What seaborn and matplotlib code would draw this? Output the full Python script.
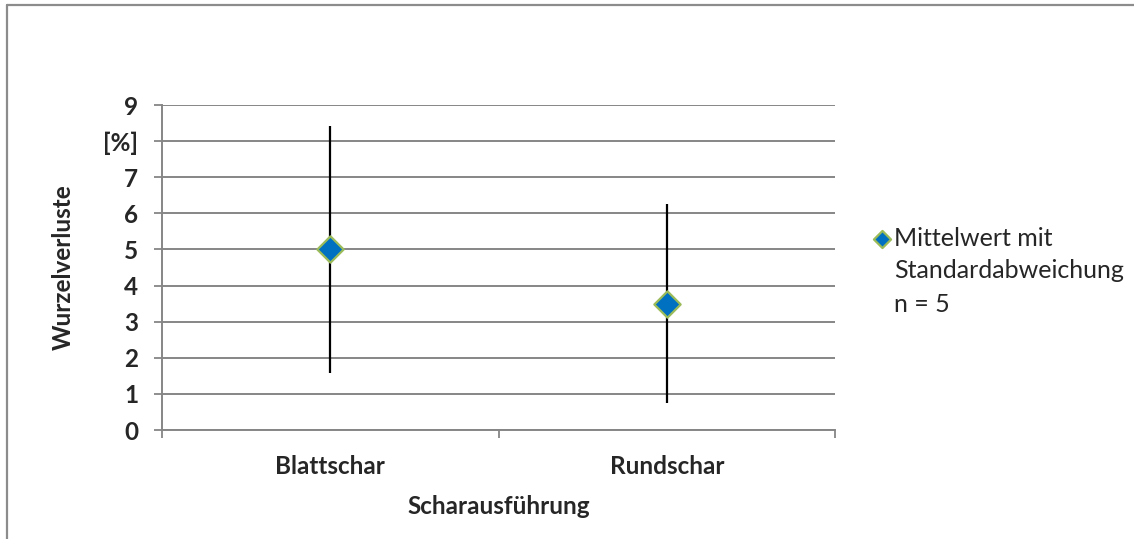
import matplotlib
matplotlib.use('Agg')
import matplotlib.pyplot as plt
from matplotlib.lines import Line2D
import seaborn as sns
import pandas as pd

# Daten
categories = ['Blattschar', 'Rundschar']
mean_values = [5.0, 3.5]
std_values = [3.43, 2.75]
y_ticks = [0, 1, 2, 3, 4, 5, 6, 7, 8, 9]
y_tick_labels = ['0', '1', '2', '3', '4', '5', '6', '7', '[%]', '9']
legend_lines = ['Mittelwert mit', 'Standardabweichung', 'n = 5']

df = pd.DataFrame({'Schar': categories, 'Mittelwert': mean_values, 'SD': std_values})
df['pos'] = range(len(df))

sns.set_theme(style='white')
plt.rcParams['font.family'] = ['Lato', 'DejaVu Sans']

grey = '#868686'
fs = 17.5

fig = plt.figure(figsize=(11.34, 5.39), dpi=100)
ax = fig.add_axes([162 / 1134, 1 - 430 / 539, 673 / 1134, 325 / 539])

# Fehlerbalken (Standardabweichung)
ax.errorbar(x=df['pos'], y=df['Mittelwert'], yerr=df['SD'], fmt='none',
            ecolor='black', elinewidth=1.6, capsize=0, zorder=3)

# Mittelwerte als Rauten
sns.scatterplot(data=df, x='pos', y='Mittelwert', marker='D', s=180,
                color='#0070C0', edgecolor='#9BBB59', linewidth=1.6,
                zorder=4, ax=ax, label=legend_lines[0])

# Achsen
ax.set_xlim(-0.5, len(categories) - 0.5)
ax.set_ylim(0, 9)
ax.set_yticks(y_ticks)
ax.set_yticklabels(y_tick_labels, fontsize=fs, fontweight='bold')
ax.set_xticks([i - 0.5 for i in range(len(categories) + 1)])
ax.set_xticklabels([])
ax.set_xticks(df['pos'], minor=True)
ax.set_xticklabels(categories, minor=True, fontsize=fs, fontweight='bold')
ax.tick_params(axis='x', which='major', direction='out', length=6, width=1.3,
               color=grey, bottom=True)
ax.tick_params(axis='x', which='minor', length=0, pad=18, bottom=True)
ax.tick_params(axis='y', direction='out', length=6, width=1.3, color=grey,
               left=True, pad=11)

ax.yaxis.grid(True, color=grey, linewidth=1.4)
ax.xaxis.grid(False)
ax.set_axisbelow(True)
for side in ['top', 'right']:
    ax.spines[side].set_visible(False)
for side in ['left', 'bottom']:
    ax.spines[side].set_color(grey)
    ax.spines[side].set_linewidth(1.4)

ax.set_ylabel('Wurzelverluste', fontsize=fs, fontweight='bold')
ax.yaxis.set_label_coords(-0.13, 0.5)
ax.set_xlabel('Scharausführung', fontsize=fs, fontweight='bold')
ax.xaxis.set_label_coords(0.5, -0.2)

# Legende: erste Zeile mit Raute, weitere Zeilen ohne Symbol
handles, labels = ax.get_legend_handles_labels()
blank = Line2D([], [], linestyle='none', marker=None)
handles = [handles[0], blank, blank]
ax.legend(handles, legend_lines, loc='upper left',
          bbox_to_anchor=(862 / 1134, 1 - 214 / 539),
          bbox_transform=fig.transFigure, frameon=False, fontsize=18,
          borderpad=0, handlelength=0.6, handletextpad=0.2,
          labelspacing=0.4, markerscale=0.65)

# Rahmen um die Grafik (links und oben)
fig.add_artist(Line2D([7 / 1134, 7 / 1134], [0, 1 - 5 / 539], color='#8c8c8c',
                      linewidth=1.6, transform=fig.transFigure))
fig.add_artist(Line2D([7 / 1134, 1], [1 - 5 / 539, 1 - 5 / 539], color='#8c8c8c',
                      linewidth=1.6, transform=fig.transFigure))

fig.savefig('out.png', dpi=100)
